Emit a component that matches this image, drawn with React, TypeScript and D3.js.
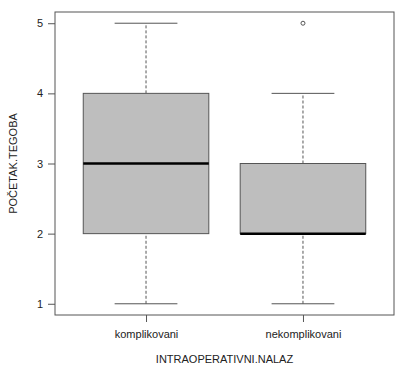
import React, { useEffect, useRef } from 'react';
import * as d3 from 'd3';

const categories = ['komplikovani', 'nekomplikovani'];
const whiskerLow = [1, 1];
const q1 = [2, 2];
const median = [3, 2];
const q3 = [4, 3];
const whiskerHigh = [5, 4];
const outliers = [[], [5]];
const yTicks = [1, 2, 3, 4, 5];

function App() {
    const svgRef = useRef<SVGSVGElement>(null);

    const w = 403;
    const h = 372;
    const left = 55, right = 394, top = 12, bottom = 315;

    useEffect(() => {
        const svg = d3.select(svgRef.current);
        svg.selectAll('*').remove();

        // R style: range extended by 4%
        const x = d3.scaleLinear().domain([0.42, 2.58]).range([left, right]);
        const y = d3.scaleLinear().domain([0.84, 5.16]).range([bottom, top]);
        const boxW = x(1.4) - x(0.6);
        const capW = boxW / 2;
        const font = 'Liberation Sans, Arial, sans-serif';
        const ink = '#555';

        const g = svg.append('g');

        categories.forEach((c, i) => {
            const cx = x(i + 1);
            // whiskers
            g.append('line')
                .attr('x1', cx).attr('x2', cx)
                .attr('y1', y(whiskerLow[i])).attr('y2', y(q1[i]))
                .attr('stroke', ink).attr('stroke-dasharray', '3,2');
            g.append('line')
                .attr('x1', cx).attr('x2', cx)
                .attr('y1', y(q3[i])).attr('y2', y(whiskerHigh[i]))
                .attr('stroke', ink).attr('stroke-dasharray', '3,2');
            [whiskerLow[i], whiskerHigh[i]].forEach(v => {
                g.append('line')
                    .attr('x1', cx - capW / 2).attr('x2', cx + capW / 2)
                    .attr('y1', y(v)).attr('y2', y(v))
                    .attr('stroke', ink);
            });
            g.append('rect')
                .attr('x', cx - boxW / 2)
                .attr('y', y(q3[i]))
                .attr('width', boxW)
                .attr('height', y(q1[i]) - y(q3[i]))
                .attr('fill', '#bebebe')
                .attr('stroke', ink);
            g.append('line')
                .attr('x1', cx - boxW / 2).attr('x2', cx + boxW / 2)
                .attr('y1', y(median[i])).attr('y2', y(median[i]))
                .attr('stroke', '#000').attr('stroke-width', 2.5);
            outliers[i].forEach(v => {
                g.append('circle')
                    .attr('cx', cx).attr('cy', y(v)).attr('r', 2)
                    .attr('fill', 'none').attr('stroke', ink);
            });
        });

        // frame
        svg.append('rect')
            .attr('x', left).attr('y', top)
            .attr('width', right - left).attr('height', bottom - top)
            .attr('fill', 'none').attr('stroke', ink);

        const yAxis = svg.append('g')
            .attr('transform', `translate(${left},0)`)
            .call(d3.axisLeft(y).tickValues(yTicks).tickFormat(d3.format('d')).tickSizeOuter(0).tickSizeInner(7));
        yAxis.select('.domain').remove();
        yAxis.selectAll('line').attr('stroke', ink);
        yAxis.selectAll('text')
            .attr('font-family', font).attr('font-size', 11).attr('fill', '#222')
            .attr('x', -15)
            .attr('text-anchor', 'middle');

        const xAxis = svg.append('g')
            .attr('transform', `translate(0, ${bottom})`)
            .call(d3.axisBottom(x).tickValues([1, 2]).tickFormat((d: any) => categories[d - 1]).tickSizeOuter(0).tickSizeInner(7).tickPadding(8));
        xAxis.select('.domain').remove();
        xAxis.selectAll('line').attr('stroke', ink);
        xAxis.selectAll('text').attr('font-family', font).attr('font-size', 11).attr('fill', '#222');

        svg.append('text')
            .attr('x', (left + right) / 2).attr('y', 363)
            .attr('text-anchor', 'middle')
            .attr('font-family', font).attr('font-size', 11).attr('fill', '#222')
            .text('INTRAOPERATIVNI.NALAZ');

        svg.append('text')
            .attr('transform', `translate(17, ${(top + bottom) / 2}) rotate(-90)`)
            .attr('text-anchor', 'middle')
            .attr('font-family', font).attr('font-size', 11).attr('fill', '#222')
            .text('POČETAK.TEGOBA');
    }, []);

    return (
        <svg ref={svgRef} width={w} height={h} style={{ position: 'absolute', left: 0, top: 0, background: '#fff' }}></svg>
    );
}

export default App;
